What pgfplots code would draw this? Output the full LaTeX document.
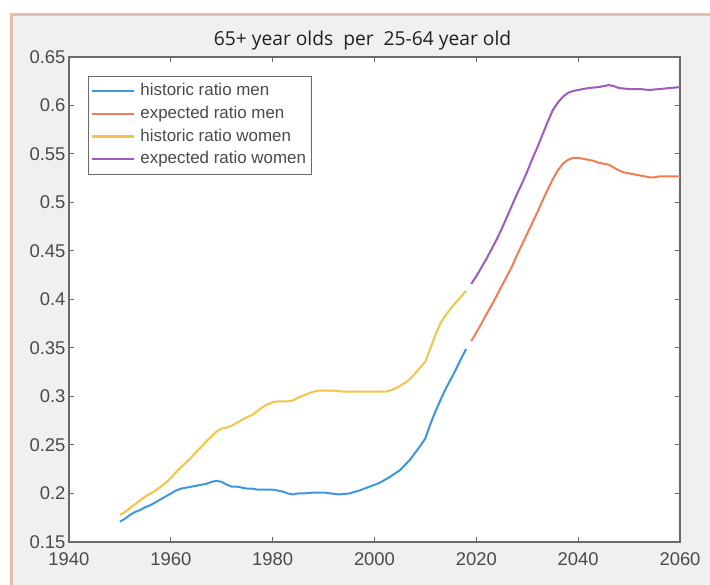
\documentclass[border=0pt]{standalone}
\usepackage{fontspec}
\setmainfont{Liberation Sans}
\newfontfamily\titlefont{Open Sans}
\usepackage{pgfplots}
\pgfplotsset{compat=1.18}

\definecolor{bgpanel}{HTML}{F0F0F0}
\definecolor{framecol}{HTML}{E2C0B0}
\definecolor{axisgray}{HTML}{6A6A6A}
\definecolor{labelgray}{HTML}{4A4A4A}
\definecolor{titlecol}{HTML}{202020}
\definecolor{cblue}{HTML}{3F97DB}
\definecolor{corange}{HTML}{EE7F55}
\definecolor{cyellow}{HTML}{F2C447}
\definecolor{cpurple}{HTML}{A259BC}

\begin{document}
\begin{tikzpicture}
\useasboundingbox (0bp,0bp) rectangle (710bp,585bp);
\fill[white] (0bp,0bp) rectangle (710bp,585bp);
\fill[bgpanel] (11bp,0bp) rectangle (710bp,570bp);
\draw[framecol, line width=3bp] (11bp,0bp) -- (11bp,570bp) -- (710bp,570bp);
\begin{axis}[
  at={(69bp,43bp)}, anchor=south west,
  scale only axis, width=611bp, height=485bp,
  xmin=1940, xmax=2060, ymin=0.15, ymax=0.65,
  axis background/.style={fill=white},
  xtick={1940,1960,1980,2000,2020,2040,2060},
  xticklabels={1940,1960,1980,2000,2020,2040,2060},
  ytick={0.15,0.2,0.25,0.3,0.35,0.4,0.45,0.5,0.55,0.6,0.65},
  yticklabels={0.15,0.2,0.25,0.3,0.35,0.4,0.45,0.5,0.55,0.6,0.65},
  tick align=inside, xtick pos=both, ytick pos=both,
  xticklabel pos=bottom, yticklabel pos=left,
  major tick length=5bp,
  axis line style={axisgray, line width=1.2bp},
  every tick/.style={axisgray, line width=1bp},
  tick label style={font=\fontsize{18.5}{20}\selectfont, text=labelgray},
  xticklabel style={yshift=-7bp},
  title={65+ year olds\ \ per\ \ 25-64 year old},
  title style={font=\titlefont\fontsize{19.3}{22}\selectfont, text=titlecol,
    at={(0.5,1)}, anchor=base, yshift=6bp, xshift=-12bp},
  legend style={at={(0,1)}, anchor=north west, xshift=19bp, yshift=-19bp,
    draw=axisgray, fill=white,
    font=\fontsize{17}{20}\selectfont, text=labelgray,
    inner xsep=2.5bp, inner ysep=3.4bp, row sep=0pt,
    nodes={inner xsep=2.5bp, inner ysep=2.9bp, text height=13bp, text depth=4bp}},
  legend cell align=left,
  legend image code/.code={\draw[#1] (0bp,0bp) -- (42bp,0bp); \path (0bp,0bp) (45bp,0bp);},
]
\addlegendimage{cblue, line width=2.2bp}
\addlegendentry{historic ratio men}
\addlegendimage{corange, line width=2.2bp}
\addlegendentry{expected ratio men}
\addlegendimage{cyellow, line width=2.2bp}
\addlegendentry{historic ratio women}
\addlegendimage{cpurple, line width=2.2bp}
\addlegendentry{expected ratio women}
\addplot[cblue, line width=2bp, forget plot] coordinates {
(1950,0.171) (1951,0.174) (1952,0.178) (1953,0.181) (1954,0.183) (1955,0.186)
(1956,0.188) (1957,0.191) (1958,0.194) (1959,0.197) (1960,0.200) (1961,0.203)
(1962,0.205) (1963,0.206) (1964,0.207) (1965,0.208) (1966,0.209) (1967,0.210)
(1968,0.212) (1969,0.213) (1970,0.212) (1971,0.209) (1972,0.207) (1973,0.207)
(1974,0.206) (1975,0.205) (1976,0.205) (1977,0.204) (1978,0.204) (1979,0.204)
(1980,0.204) (1981,0.203) (1982,0.202) (1983,0.200) (1984,0.199) (1985,0.200)
(1986,0.200) (1988,0.201) (1990,0.201) (1993,0.199) (1995,0.200) (1997,0.203)
(1999,0.207) (2001,0.211) (2003,0.217) (2005,0.224) (2007,0.235) (2008,0.242)
(2009,0.249) (2010,0.257) (2011,0.272) (2012,0.285) (2013,0.297) (2014,0.308)
(2015,0.318) (2016,0.328) (2017,0.339) (2018,0.349)
};
\addplot[corange, line width=2bp, forget plot] coordinates {
(2019,0.357) (2020,0.366) (2021,0.375) (2022,0.385) (2023,0.394) (2024,0.404)
(2025,0.414) (2026,0.424) (2027,0.434) (2028,0.446) (2029,0.457) (2030,0.468)
(2031,0.479) (2032,0.490) (2033,0.502) (2034,0.513) (2035,0.524) (2036,0.533)
(2037,0.540) (2038,0.544) (2039,0.546) (2040,0.546) (2041,0.545) (2042,0.544)
(2043,0.543) (2044,0.541) (2045,0.540) (2046,0.539) (2047,0.536) (2048,0.533)
(2049,0.531) (2050,0.530) (2051,0.529) (2052,0.528) (2053,0.527) (2054,0.526)
(2055,0.526) (2056,0.527) (2058,0.527) (2060,0.527)
};
\addplot[cyellow, line width=2bp, forget plot] coordinates {
(1950,0.178) (1951,0.181) (1952,0.185) (1953,0.189) (1954,0.193) (1955,0.197)
(1956,0.200) (1957,0.203) (1958,0.207) (1959,0.211) (1960,0.216) (1961,0.222)
(1962,0.227) (1963,0.232) (1964,0.237) (1965,0.243) (1966,0.248) (1967,0.254)
(1968,0.259) (1969,0.264) (1970,0.267) (1971,0.268) (1972,0.270) (1973,0.273)
(1974,0.276) (1975,0.279) (1976,0.281) (1977,0.285) (1978,0.289) (1979,0.292)
(1980,0.294) (1981,0.295) (1982,0.295) (1983,0.295) (1984,0.296) (1985,0.299)
(1986,0.301) (1987,0.303) (1988,0.305) (1989,0.306) (1990,0.306) (1992,0.306)
(1994,0.305) (1996,0.305) (1998,0.305) (2000,0.305) (2002,0.305) (2003,0.306)
(2004,0.308) (2005,0.311) (2006,0.314) (2007,0.318) (2008,0.324) (2009,0.330)
(2010,0.336) (2011,0.350) (2012,0.364) (2013,0.376) (2014,0.384) (2015,0.391)
(2016,0.397) (2017,0.403) (2018,0.409)
};
\addplot[cpurple, line width=2bp, forget plot] coordinates {
(2019,0.416) (2020,0.424) (2021,0.433) (2022,0.442) (2023,0.452) (2024,0.462)
(2025,0.473) (2026,0.485) (2027,0.497) (2028,0.509) (2029,0.520) (2030,0.532)
(2031,0.545) (2032,0.557) (2033,0.570) (2034,0.583) (2035,0.595) (2036,0.603)
(2037,0.609) (2038,0.613) (2039,0.615) (2040,0.616) (2042,0.618) (2044,0.619)
(2045,0.620) (2046,0.621) (2047,0.620) (2048,0.618) (2050,0.617) (2052,0.617)
(2054,0.616) (2056,0.617) (2058,0.618) (2060,0.619)
};
\end{axis}
\end{tikzpicture}
\end{document}
